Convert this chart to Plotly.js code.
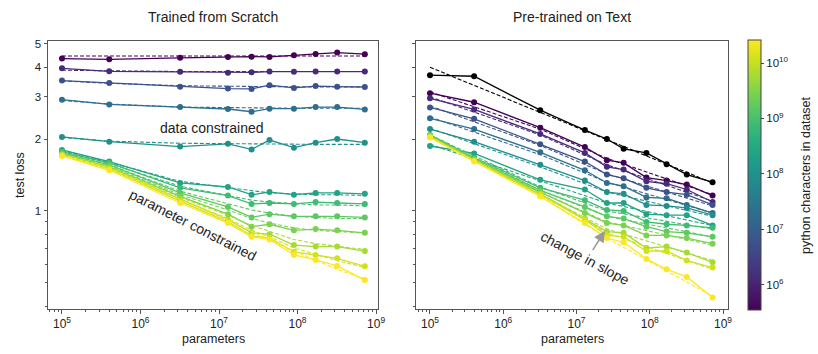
<!DOCTYPE html>
<html><head><meta charset="utf-8">
<script src="https://cdn.plot.ly/plotly-3.0.1.min.js"></script>
<style>html,body{margin:0;padding:0;background:#fff;} #chart{width:818px;height:354px;}</style>
</head><body><div id="chart"></div>
<script>
// ---------- data ----------
const params = [1e5, 4e5, 3.2e6, 1.3e7, 2.6e7, 4.4e7, 9e7, 1.7e8, 3.2e8, 7.2e8];
const datasetSizes = [3.5e5, 1.35e6, 5.8e6, 2.0e7, 9.5e7, 2.3e8, 8.0e8, 1.6e9, 2.8e9, 6.0e9, 1.2e10, 2.6e10];

// Trained from scratch: measured loss
const scratch1  = [4.34, 4.31, 4.37, 4.41, 4.42, 4.41, 4.48, 4.54, 4.60, 4.53];
const scratch2  = [3.95, 3.84, 3.82, 3.79, 3.80, 3.83, 3.82, 3.83, 3.83, 3.83];
const scratch3  = [3.51, 3.43, 3.31, 3.25, 3.24, 3.36, 3.27, 3.33, 3.31, 3.30];
const scratch4  = [2.92, 2.79, 2.72, 2.67, 2.60, 2.68, 2.68, 2.72, 2.72, 2.66];
const scratch5  = [2.04, 1.95, 1.86, 1.91, 1.81, 1.98, 1.84, 1.93, 2.00, 1.93];
const scratch6  = [1.80, 1.61, 1.31, 1.26, 1.17, 1.20, 1.17, 1.19, 1.19, 1.18];
const scratch7  = [1.77, 1.59, 1.25, 1.16, 1.07, 1.08, 1.07, 1.09, 1.08, 1.07];
const scratch8  = [1.75, 1.56, 1.19, 1.04, 0.94, 0.97, 0.95, 0.95, 0.95, 0.94];
const scratch9  = [1.73, 1.53, 1.15, 0.97, 0.86, 0.88, 0.83, 0.84, 0.83, 0.81];
const scratch10 = [1.72, 1.51, 1.12, 0.92, 0.81, 0.80, 0.72, 0.71, 0.71, 0.68];
const scratch11 = [1.71, 1.50, 1.10, 0.90, 0.79, 0.77, 0.675, 0.655, 0.634, 0.587];
const scratch12 = [1.70, 1.48, 1.08, 0.89, 0.78, 0.76, 0.655, 0.624, 0.589, 0.514];

// Trained from scratch: fitted curves (dashed)
const scratchFit1  = [4.45, 4.45, 4.45, 4.45, 4.45, 4.45, 4.45, 4.45, 4.45, 4.45];
const scratchFit2  = [3.88, 3.85, 3.83, 3.83, 3.83, 3.83, 3.83, 3.83, 3.83, 3.83];
const scratchFit3  = [3.50, 3.42, 3.34, 3.32, 3.31, 3.31, 3.31, 3.30, 3.30, 3.30];
const scratchFit4  = [2.90, 2.80, 2.72, 2.70, 2.69, 2.69, 2.69, 2.69, 2.69, 2.69];
const scratchFit5  = [2.03, 1.96, 1.92, 1.91, 1.91, 1.90, 1.90, 1.90, 1.90, 1.90];
const scratchFit6  = [1.79, 1.60, 1.33, 1.25, 1.21, 1.19, 1.18, 1.17, 1.17, 1.16];
const scratchFit7  = [1.77, 1.58, 1.27, 1.16, 1.11, 1.09, 1.07, 1.06, 1.06, 1.05];
const scratchFit8  = [1.75, 1.56, 1.21, 1.07, 1.01, 0.98, 0.95, 0.94, 0.93, 0.93];
const scratchFit9  = [1.74, 1.54, 1.17, 1.01, 0.93, 0.89, 0.85, 0.83, 0.82, 0.81];
const scratchFit10 = [1.73, 1.53, 1.14, 0.96, 0.87, 0.82, 0.76, 0.73, 0.71, 0.69];
const scratchFit11 = [1.72, 1.52, 1.12, 0.93, 0.83, 0.78, 0.70, 0.66, 0.62, 0.58];
const scratchFit12 = [1.72, 1.51, 1.11, 0.92, 0.82, 0.76, 0.68, 0.62, 0.57, 0.52];

// Pre-trained on text: measured loss
const pretrained1  = [3.11, 2.85, 2.23, 1.85, 1.63, 1.59, 1.38, 1.34, 1.29, 1.16];
const pretrained2  = [2.96, 2.66, 2.10, 1.75, 1.53, 1.49, 1.33, 1.30, 1.23, 1.09];
const pretrained3  = [2.71, 2.43, 1.90, 1.61, 1.42, 1.37, 1.25, 1.20, 1.17, 1.06];
const pretrained4  = [2.44, 2.20, 1.76, 1.48, 1.31, 1.27, 1.14, 1.13, 1.06, 0.98];
const pretrained5  = [2.20, 1.95, 1.56, 1.34, 1.20, 1.18, 1.06, 1.05, 1.03, 0.96];
const pretrained6  = [1.87, 1.74, 1.35, 1.23, 1.08, 1.08, 0.97, 0.96, 0.96, 0.87];
const pretrained7  = [2.08, 1.67, 1.25, 1.11, 1.01, 1.00, 0.90, 0.88, 0.87, 0.85];
const pretrained8  = [2.07, 1.65, 1.22, 1.04, 0.95, 0.93, 0.86, 0.82, 0.81, 0.78];
const pretrained9  = [2.06, 1.63, 1.20, 0.98, 0.89, 0.87, 0.79, 0.79, 0.77, 0.73];
const pretrained10 = [2.05, 1.63, 1.18, 0.93, 0.82, 0.81, 0.70, 0.71, 0.67, 0.61];
const pretrained11 = [2.04, 1.62, 1.17, 0.92, 0.79, 0.78, 0.68, 0.68, 0.62, 0.58];
const pretrained12 = [2.03, 1.61, 1.15, 0.89, 0.77, 0.74, 0.63, 0.57, 0.53, 0.435];
const pretrainedTextOnly = [3.70, 3.66, 2.64, 2.18, 2.00, 1.82, 1.75, 1.57, 1.42, 1.32];

// Pre-trained on text: fitted curves (dashed), at fewer parameter counts
const fitParams = [1e5, 3.2e6, 2.6e7, 7.2e8];
const pretrainedFit1  = [3.15, 2.20, 1.66, 1.17];
const pretrainedFit2  = [3.00, 2.08, 1.56, 1.10];
const pretrainedFit3  = [2.75, 1.88, 1.43, 1.05];
const pretrainedFit4  = [2.47, 1.72, 1.32, 0.98];
const pretrainedFit5  = [2.22, 1.53, 1.20, 0.95];
const pretrainedFit6  = [1.90, 1.33, 1.08, 0.87];
const pretrainedFit7  = [2.08, 1.26, 1.00, 0.84];
const pretrainedFit8  = [2.07, 1.22, 0.95, 0.78];
const pretrainedFit9  = [2.06, 1.20, 0.90, 0.72];
const pretrainedFit10 = [2.05, 1.18, 0.84, 0.62];
const pretrainedFit11 = [2.04, 1.17, 0.81, 0.57];
const pretrainedFit12 = [2.03, 1.15, 0.77, 0.44];
const pretrainedTextOnlyFit = [3.99, 3.35, 2.58, 2.17, 1.99, 1.86, 1.70, 1.57, 1.45, 1.31];

const xTickVals = [1e5, 1e6, 1e7, 1e8, 1e9];
const xTickText = ['10<sup>5</sup>', '10<sup>6</sup>', '10<sup>7</sup>', '10<sup>8</sup>', '10<sup>9</sup>'];
const yTickVals = [1, 2, 3, 4, 5];
const yTickText = ['1', '2', '3', '4', '5'];
const cbTickVals = [6, 7, 8, 9, 10];
const cbTickText = ['10<sup>6</sup>', '10<sup>7</sup>', '10<sup>8</sup>', '10<sup>9</sup>', '10<sup>10</sup>'];

// ---------- build ----------
const scratchSeries = [scratch1,scratch2,scratch3,scratch4,scratch5,scratch6,scratch7,scratch8,scratch9,scratch10,scratch11,scratch12];
const scratchFits = [scratchFit1,scratchFit2,scratchFit3,scratchFit4,scratchFit5,scratchFit6,scratchFit7,scratchFit8,scratchFit9,scratchFit10,scratchFit11,scratchFit12];
const textSeries = [pretrained1,pretrained2,pretrained3,pretrained4,pretrained5,pretrained6,pretrained7,pretrained8,pretrained9,pretrained10,pretrained11,pretrained12];
const textFits = [pretrainedFit1,pretrainedFit2,pretrainedFit3,pretrainedFit4,pretrainedFit5,pretrainedFit6,pretrainedFit7,pretrainedFit8,pretrainedFit9,pretrainedFit10,pretrainedFit11,pretrainedFit12];

const VIR = [[0,'#440154'],[0.06274509803921569,'#48186a'],[0.12549019607843137,'#472d7b'],[0.18823529411764706,'#424086'],[0.25098039215686274,'#3b528b'],[0.3137254901960784,'#33638d'],[0.3764705882352941,'#2c728e'],[0.4392156862745098,'#26828e'],[0.5019607843137255,'#21918c'],[0.5647058823529412,'#1fa088'],[0.6274509803921569,'#28ae80'],[0.6901960784313725,'#3fbc73'],[0.7529411764705882,'#5ec962'],[0.8156862745098039,'#84d44b'],[0.8784313725490196,'#addc30'],[0.9411764705882353,'#d8e219'],[1,'#fde725']];
const CMIN = Math.log10(3.5e5), CMAX = Math.log10(2.6e10);
function hex2rgb(h){return [parseInt(h.slice(1,3),16),parseInt(h.slice(3,5),16),parseInt(h.slice(5,7),16)];}
function viridis(t){
  t = Math.max(0, Math.min(1, t));
  for (let i = 0; i < VIR.length - 1; i++) {
    const a = VIR[i], b = VIR[i+1];
    if (t <= b[0]) {
      const f = (t - a[0]) / (b[0] - a[0]);
      const ca = hex2rgb(a[1]), cb = hex2rgb(b[1]);
      return 'rgb(' + ca.map((v,k)=>Math.round(v + f*(cb[k]-v))).join(',') + ')';
    }
  }
  return VIR[VIR.length-1][1];
}

const traces = [];
datasetSizes.forEach((d, i) => {
  const c = viridis((Math.log10(d) - CMIN) / (CMAX - CMIN));
  traces.push({type:'scatter', mode:'lines+markers', x:params, y:scratchSeries[i], xaxis:'x', yaxis:'y',
    line:{color:c, width:1.3}, marker:{color:c, size:6}, hoverinfo:'skip', showlegend:false});
  traces.push({type:'scatter', mode:'lines', x:params, y:scratchFits[i], xaxis:'x', yaxis:'y',
    line:{color:c, width:1.1, dash:'4px,2px'}, hoverinfo:'skip', showlegend:false});
  traces.push({type:'scatter', mode:'lines+markers', x:params, y:textSeries[i], xaxis:'x2', yaxis:'y2',
    line:{color:c, width:1.3}, marker:{color:c, size:6}, hoverinfo:'skip', showlegend:false});
  traces.push({type:'scatter', mode:'lines', x:fitParams, y:textFits[i], xaxis:'x2', yaxis:'y2',
    line:{color:c, width:1.1, dash:'4px,2px'}, hoverinfo:'skip', showlegend:false});
});
traces.push({type:'scatter', mode:'lines+markers', x:params, y:pretrainedTextOnly, xaxis:'x2', yaxis:'y2',
  line:{color:'#000', width:1.3}, marker:{color:'#000', size:6}, hoverinfo:'skip', showlegend:false});
traces.push({type:'scatter', mode:'lines', x:params, y:pretrainedTextOnlyFit, xaxis:'x2', yaxis:'y2',
  line:{color:'#000', width:1.1, dash:'4px,2px'}, hoverinfo:'skip', showlegend:false});

const FONT = 'Liberation Sans, Arial, Helvetica, sans-serif';
const H = 354, W = 818;
// colorbar carrier
traces.push({type:'scatter', mode:'markers', x:[1e5], y:[1], xaxis:'x', yaxis:'y', hoverinfo:'skip', showlegend:false,
  marker:{size:0.1, opacity:0, color:[CMIN, CMAX], cmin:CMIN, cmax:CMAX, colorscale:'Viridis', showscale:true,
    colorbar:{x:748/W, xanchor:'left', xref:'paper', y:1-40/H, yanchor:'top', yref:'paper', len:270/H, lenmode:'fraction',
      thickness:13, thicknessmode:'pixels', outlinewidth:1, outlinecolor:'#444', xpad:0, ypad:0,
      tickmode:'array', tickvals:cbTickVals, ticktext:cbTickText, ticks:'outside', ticklen:3, tickcolor:'#444',
      tickfont:{family:FONT, size:11.5, color:'#222'}}}});

function minorX(){const v=[];for(let k=4;k<=9;k++)for(let m=2;m<=9;m++)v.push(m*Math.pow(10,k));return v;}
const axisBase = {showline:true, mirror:true, linecolor:'#555', linewidth:1, ticks:'outside', tickcolor:'#555',
  ticklen:3.5, tickwidth:1, showgrid:false, zeroline:false, tickfont:{family:FONT, size:12, color:'#222'}};
const xBase = Object.assign({}, axisBase, {type:'log', tickmode:'array', tickvals:xTickVals, ticktext:xTickText,
  minor:{tickmode:'array', tickvals:minorX(), ticklen:2, ticks:'outside', tickcolor:'#555', showgrid:false}});
const yBase = Object.assign({}, axisBase, {type:'log', range:[-0.410, 0.711], domain:[1-309/H, 1-41/H],
  tickmode:'array', tickvals:yTickVals, ticktext:yTickText, tickfont:{family:FONT, size:11.5, color:'#222'},
  minor:{tickmode:'array', tickvals:[0.4,0.5,0.6,0.7,0.8,0.9], ticklen:2, ticks:'outside', tickcolor:'#555', showgrid:false}});

function paperText(text, px, py, size, angle){
  return {text:text, xref:'paper', yref:'paper', x:px/W, y:1-py/H, xanchor:'center', yanchor:'middle',
    textangle:angle||0, showarrow:false, font:{family:FONT, size:size, color:'#222'}};
}

const layout = {
  width:W, height:H, margin:{l:0, r:0, t:0, b:0}, paper_bgcolor:'#fff', plot_bgcolor:'#fff',
  font:{family:FONT, color:'#222'}, showlegend:false,
  xaxis:Object.assign({}, xBase, {range:[4.822, 9.025], domain:[48/W, 378/W], anchor:'y'}),
  xaxis2:Object.assign({}, xBase, {range:[4.809, 9.068], domain:[416/W, 728/W], anchor:'y2'}),
  yaxis:Object.assign({}, yBase, {anchor:'x'}),
  yaxis2:Object.assign({}, yBase, {anchor:'x2', showticklabels:false}),
  annotations:[
    paperText('Trained from Scratch', 213, 17, 14),
    paperText('Pre-trained on Text', 572, 17, 14),
    paperText('test loss', 20, 175, 12.5, -90),
    paperText('parameters', 213, 339, 12.5),
    paperText('parameters', 572, 339, 12.5),
    paperText('python characters in dataset', 806, 175, 12.5, -90),
    {text:'data constrained', xref:'x', yref:'y', x:6.911, y:0.3485, xanchor:'center', yanchor:'middle', showarrow:false, font:{family:FONT, size:14, color:'#222'}},
    {text:'parameter constrained', xref:'x', yref:'y', x:6.669, y:-0.0586, xanchor:'center', yanchor:'middle', textangle:27, showarrow:false, font:{family:FONT, size:14, color:'#222'}},
    {text:'change in slope', xref:'x2', yref:'y2', x:7.116, y:-0.1967, xanchor:'center', yanchor:'middle', textangle:28, showarrow:false, font:{family:FONT, size:14, color:'#222'}},
    {text:'', xref:'x2', yref:'y2', x:7.387, y:-0.0824, ax:-13, ay:21, showarrow:true, arrowhead:2, arrowsize:1.4, arrowwidth:1.6, arrowcolor:'#999'}
  ]
};
Plotly.newPlot('chart', traces, layout, {staticPlot:true, displayModeBar:false});
</script></body></html>
